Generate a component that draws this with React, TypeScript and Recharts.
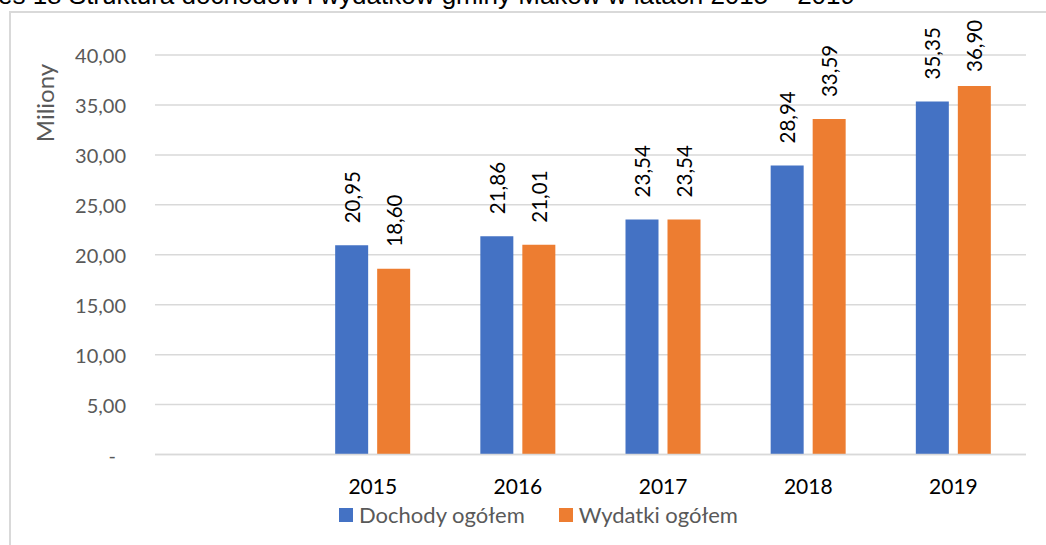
import React from "react"
import { BarChart, Bar, XAxis, YAxis, CartesianGrid, Legend, LabelList } from "recharts"

const years = ["", "2015", "2016", "2017", "2018", "2019"]
const dochody = [null, 20.95, 21.86, 23.54, 28.94, 35.35]
const wydatki = [null, 18.6, 21.01, 23.54, 33.59, 36.9]
const yTicks = [0, 5, 10, 15, 20, 25, 30, 35, 40]

const seriesNames = { dochody: "Dochody ogółem", wydatki: "Wydatki ogółem" }
const colors = { dochody: "#4472C4", wydatki: "#ED7D31" }

const data = years.map((year, i) => ({
  year,
  dochody: dochody[i],
  wydatki: wydatki[i],
}))

const FONT = "Lato, 'Open Sans', sans-serif"

const fmt = (v: number) => v.toFixed(2).replace(".", ",")

function YTick(props: any) {
  const { x, y, payload } = props
  const isZero = payload.value === 0
  return (
    <text
      x={isZero ? x - 10 : x}
      y={y}
      textAnchor="end"
      dominantBaseline="central"
      fill="#595959"
      fontSize={20}
      fontFamily={FONT}
    >
      {isZero ? "-" : fmt(payload.value)}
    </text>
  )
}

function ValueLabel(props: any) {
  const { x, y, width, value } = props
  if (value == null) return null
  const cx = x + width / 2
  // keep the label inside the chart frame, like Excel does
  const base = Math.max(y - 22, 72)
  return (
    <text
      x={cx}
      y={base}
      transform={`rotate(-90, ${cx}, ${base})`}
      textAnchor="start"
      dominantBaseline="central"
      fill="#000"
      fontSize={20.5}
      fontFamily={FONT}
    >
      {fmt(value)}
    </text>
  )
}

function LegendContent() {
  const items = [
    { name: seriesNames.dochody, color: colors.dochody },
    { name: seriesNames.wydatki, color: colors.wydatki },
  ]
  return (
    <div style={{ display: "flex", justifyContent: "center", alignItems: "center", gap: 34 }}>
      {items.map((it) => (
        <div key={it.name} style={{ display: "flex", alignItems: "center" }}>
          <span style={{ width: 14, height: 14, background: it.color, marginRight: 6, display: "inline-block" }} />
          <span style={{ color: "#595959", fontSize: 22, fontFamily: FONT, lineHeight: "28px" }}>{it.name}</span>
        </div>
      ))}
    </div>
  )
}

export default function App() {
  return (
    <div
      style={{
        position: "absolute",
        left: 0,
        top: 0,
        width: 1046,
        height: 545,
        overflow: "hidden",
        background: "#fff",
      }}
    >
      <div
        style={{
          position: "absolute",
          left: -61,
          top: -18,
          whiteSpace: "nowrap",
          fontFamily: "'Liberation Sans', Arial, sans-serif",
          fontSize: 26,
          lineHeight: "26px",
          color: "#000",
        }}
      >
        Wykres 18 Struktura dochodów i wydatków gminy Maków w latach 2015 – 2019
      </div>
      <div
        style={{
          position: "absolute",
          left: 9,
          top: 11,
          width: 1100,
          height: 600,
          border: "2px solid #d9d9d9",
        }}
      />
      <div style={{ position: "absolute", left: 0, top: 0 }}>
        <BarChart
          width={1046}
          height={545}
          data={data}
          margin={{ top: 55, right: 20, bottom: 60, left: 0 }}
          barSize={33}
          barGap={9}
        >
          <CartesianGrid vertical={false} stroke="#d9d9d9" strokeWidth={1.5} />
          <XAxis
            dataKey="year"
            height={30.5}
            tickSize={0}
            tickMargin={25}
            axisLine={{ stroke: "#d9d9d9", strokeWidth: 1.5 }}
            tick={{ fill: "#000", fontSize: 21, fontFamily: FONT }}
          />
          <YAxis
            width={155}
            domain={[0, 40]}
            ticks={yTicks}
            interval={0}
            tickSize={0}
            tickMargin={29}
            axisLine={false}
            tick={<YTick />}
            label={{
              content: () => (
                <text
                  x={44}
                  y={103}
                  transform="rotate(-90, 44, 103)"
                  textAnchor="middle"
                  dominantBaseline="central"
                  fill="#595959"
                  fontSize={24}
                  fontFamily={FONT}
                >
                  Miliony
                </text>
              ),
            }}
          />
          <Legend
            verticalAlign="middle"
            content={() => <LegendContent />}
            wrapperStyle={{ top: 501, left: 0, width: 1077 }}
          />
          <Bar dataKey="dochody" name={seriesNames.dochody} fill={colors.dochody} isAnimationActive={false}>
            <LabelList dataKey="dochody" content={<ValueLabel />} />
          </Bar>
          <Bar dataKey="wydatki" name={seriesNames.wydatki} fill={colors.wydatki} isAnimationActive={false}>
            <LabelList dataKey="wydatki" content={<ValueLabel />} />
          </Bar>
        </BarChart>
      </div>
    </div>
  )
}
